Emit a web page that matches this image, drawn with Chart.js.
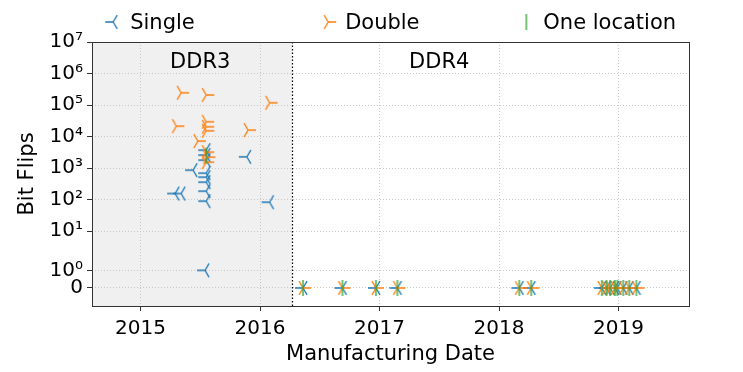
<!DOCTYPE html>
<html lang="en">
<head>
  <meta charset="UTF-8">
  <title>Bit Flips vs Manufacturing Date</title>
  <script src="https://cdn.jsdelivr.net/npm/chart.js"></script>
  <style>
    html, body { margin: 0; padding: 0; background: #fff; }
  </style>
</head>
<body>
  <canvas id="flipChart" width="743" height="372"></canvas>
  <script>
    // values, dates as decimal years
    const singleDates = [2015.54, 2015.29, 2015.34, 2015.44, 2015.55, 2015.55, 2015.55, 2015.55, 2015.55,
      2015.55, 2015.55, 2015.55, 2015.89, 2016.08,
      2016.36, 2016.69, 2016.97, 2017.15, 2018.17, 2018.27, 2018.86, 2018.90, 2018.93, 2018.97,
      2018.99, 2019.04, 2019.09, 2019.15];
    const singleFlips = [1, 157, 157, 865, 694, 518, 360, 186, 90,
      3725, 2588, 1795, 2285, 83,
      0, 0, 0, 0, 0, 0, 0, 0, 0, 0, 0, 0, 0, 0];
    const doubleDates = [2015.34, 2015.55, 2016.08, 2015.30, 2015.55, 2015.55, 2015.55, 2015.90,
      2015.48, 2015.55, 2015.56, 2015.55,
      2016.36, 2016.69, 2016.97, 2017.15, 2018.17, 2018.27, 2018.86, 2018.90, 2018.93, 2018.97,
      2018.99, 2019.04, 2019.09, 2019.15];
    const doubleFlips = [245000, 209000, 118000, 21500, 29500, 20500, 15300, 16100,
      7200, 3220, 2235, 1550,
      0, 0, 0, 0, 0, 0, 0, 0, 0, 0, 0, 0, 0, 0];
    const oneLocDates = [2015.55,
      2016.36, 2016.69, 2016.97, 2017.15, 2018.17, 2018.27, 2018.86, 2018.90, 2018.93, 2018.97,
      2018.99, 2019.04, 2019.09, 2019.15];
    const oneLocFlips = [2500,
      0, 0, 0, 0, 0, 0, 0, 0, 0, 0, 0, 0, 0, 0];

    const seriesNames = ['Single', 'Double', 'One location'];
    const seriesColors = ['#1f77b4', '#ff7f0e', '#2ca02c'];
    const xTicks = [2015, 2016, 2017, 2018, 2019];
    const yTicks = [0, 1, 10, 100, 1e3, 1e4, 1e5, 1e6, 1e7];
    const yTickLabels = ['0', '10⁰', '10¹', '10²', '10³', '10⁴', '10⁵', '10⁶', '10⁷'];
    const ddrSplit = 2016.27;
    const ddrNames = ['DDR3', 'DDR4'];
    const ddrNameDates = [2015.5, 2017.5];

    const FONT = '"DejaVu Sans", sans-serif';
    const markerRadius = 8;

    // symlog-like axis: linear below 1, log above (positions in decades)
    function symPos(v) {
      if (v < 1) return v * 0.56;
      if (v < 10) return 0.56 + Math.log10(v) * 1.24;
      return Math.log10(v) + 0.8;
    }
    function symInv(p) {
      if (p < 0.56) return p / 0.56;
      if (p < 1.8) return Math.pow(10, (p - 0.56) / 1.24);
      return Math.pow(10, p - 0.8);
    }

    class SymlogScale extends Chart.LinearScale {
      static id = 'symlog';
      static defaults = {};
      buildTicks() {
        return yTicks.map(v => ({ value: v }));
      }
      getPixelForValue(value) {
        const lo = symPos(this.min), hi = symPos(this.max);
        return this.getPixelForDecimal((symPos(value) - lo) / (hi - lo));
      }
      getValueForPixel(pixel) {
        const lo = symPos(this.min), hi = symPos(this.max);
        return symInv(lo + this.getDecimalForPixel(pixel) * (hi - lo));
      }
    }
    Chart.register(SymlogScale);

    function makeMarker(kind, color) {
      const r = markerRadius, size = 2 * r + 4;
      const c = document.createElement('canvas');
      c.width = size; c.height = size;
      const g = c.getContext('2d');
      g.strokeStyle = color;
      g.lineWidth = 1.3;
      g.translate(size / 2, size / 2);
      const arms = { triLeft: [180, 60, -60], triRight: [0, 120, 240], vline: [90, 270] }[kind];
      g.beginPath();
      arms.forEach(deg => {
        const a = deg * Math.PI / 180;
        g.moveTo(0, 0);
        g.lineTo(r * Math.cos(a), -r * Math.sin(a));
      });
      g.stroke();
      return c;
    }

    function toPoints(dates, flips) {
      return dates.map((d, i) => ({ x: d, y: flips[i] }));
    }

    const markerKinds = ['triLeft', 'triRight', 'vline'];
    const seriesData = [
      toPoints(singleDates, singleFlips),
      toPoints(doubleDates, doubleFlips),
      toPoints(oneLocDates, oneLocFlips)
    ];

    const datasets = seriesNames.map((name, i) => ({
      label: name,
      data: seriesData[i],
      pointStyle: makeMarker(markerKinds[i], seriesColors[i]),
      pointRadius: markerRadius,
      borderColor: seriesColors[i],
      backgroundColor: seriesColors[i],
      order: 3 - i
    }));

    const decor = {
      id: 'decor',
      beforeDraw(chart) {
        const { ctx, chartArea: a, scales: { x } } = chart;
        ctx.save();
        ctx.fillStyle = '#fff';
        ctx.fillRect(0, 0, chart.width, chart.height);
        ctx.fillStyle = '#f0f0f0';
        ctx.fillRect(a.left, a.top, x.getPixelForValue(ddrSplit) - a.left, a.bottom - a.top);
        ctx.restore();
      },
      beforeDatasetsDraw(chart) {
        const { ctx, chartArea: a, scales: { x } } = chart;
        const px = Math.round(x.getPixelForValue(ddrSplit)) + 0.5;
        ctx.save();
        ctx.strokeStyle = '#000';
        ctx.lineWidth = 1.2;
        ctx.setLineDash([1.5, 2]);
        ctx.beginPath();
        ctx.moveTo(px, a.top);
        ctx.lineTo(px, a.bottom);
        ctx.stroke();
        ctx.restore();
      },
      afterDraw(chart) {
        const { ctx, chartArea: a, scales: { x } } = chart;
        ctx.save();
        // frame
        ctx.strokeStyle = '#333';
        ctx.lineWidth = 1;
        ctx.strokeRect(Math.round(a.left) + 0.5, Math.round(a.top) + 0.5,
          Math.round(a.right - a.left), Math.round(a.bottom - a.top));
        // region names
        ctx.font = '21px ' + FONT;
        ctx.fillStyle = '#000';
        ctx.textAlign = 'center';
        ctx.textBaseline = 'alphabetic';
        ddrNames.forEach((n, i) => ctx.fillText(n, x.getPixelForValue(ddrNameDates[i]), a.top + 26));
        // legend across the top: label starts as fractions of the plot width
        ctx.textAlign = 'left';
        const slots = [0.064, 0.424, 0.756];
        const w = a.right - a.left;
        chart.data.datasets.forEach((ds, i) => {
          const tx = a.left + slots[i] * w;
          const m = ds.pointStyle;
          ctx.drawImage(m, tx - 17 - m.width / 2, 22 - m.height / 2);
          ctx.fillText(ds.label, tx, 29);
        });
        ctx.restore();
      }
    };

    const tickFont = { family: FONT, size: 20 };
    const titleFont = { family: FONT, size: 21 };

    new Chart(document.getElementById('flipChart'), {
      type: 'scatter',
      data: { datasets: datasets },
      options: {
        responsive: false,
        animation: false,
        layout: { padding: { top: 42, right: 54, left: 0, bottom: 0 } },
        plugins: {
          legend: { display: false },
          tooltip: { enabled: false }
        },
        scales: {
          x: {
            type: 'linear',
            min: 2014.594,
            max: 2019.59,
            afterBuildTicks: axis => { axis.ticks = xTicks.map(v => ({ value: v })); },
            afterFit: axis => { axis.height = 66; },
            ticks: { callback: v => String(v), font: tickFont, color: '#000', padding: 6 },
            grid: { color: '#c8c8c8', lineWidth: 1, tickColor: '#333', tickLength: 5, tickWidth: 1, tickBorderDash: [] },
            border: { display: false, dash: [1, 2] },
            title: { display: true, text: 'Manufacturing Date', font: titleFont, color: '#000', padding: { top: 0, bottom: 5 } }
          },
          y: {
            type: 'symlog',
            min: -1.02,
            max: 1e7,
            afterFit: axis => { axis.width = 92; },
            ticks: {
              autoSkip: false,
              callback: v => yTickLabels[yTicks.indexOf(v)],
              font: tickFont,
              color: '#000',
              padding: 4
            },
            grid: { color: '#c8c8c8', lineWidth: 1, tickColor: '#333', tickLength: 5, tickWidth: 1, tickBorderDash: [] },
            border: { display: false, dash: [1, 2] },
            title: { display: true, text: 'Bit Flips', font: titleFont, color: '#000', padding: { top: 15, bottom: 0 } }
          }
        }
      },
      plugins: [decor]
    });
  </script>
</body>
</html>
